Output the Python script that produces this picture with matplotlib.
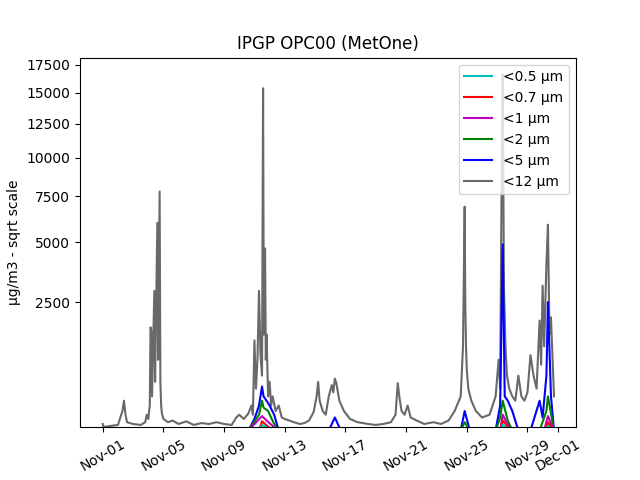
import numpy as np
import pandas as pd
import matplotlib
matplotlib.use("Agg")
import matplotlib.pyplot as plt
import matplotlib.dates as mdates

start = pd.Timestamp("2023-11-01")
# (day offset from Nov-01, value) for <12 um
pts12 = [(0.0,60),(0.05,45),(0.5,50),(1.0,55),(1.3,150),(1.4,250),(1.5,120),(1.6,70),(2.0,60),(2.5,55),
 (2.8,70),(2.9,120),(3.0,90),(3.1,200),(3.15,1700),(3.2,1600),(3.25,300),(3.4,2900),(3.45,500),(3.6,6000),
 (3.65,900),(3.75,7800),(3.8,500),(3.85,200),(3.9,130),(4.0,90),(4.3,70),(4.6,80),(5.0,60),(5.5,75),
 (6.0,55),(6.5,65),(7.0,60),(7.5,70),(8.0,60),(8.5,55),(8.8,100),(9.0,120),(9.3,90),(9.6,130),
 (9.8,200),(9.9,120),(10.0,1350),(10.1,400),(10.2,900),(10.3,2900),(10.4,1000),(10.5,600),(10.57,15400),(10.62,1500),
 (10.7,4700),(10.75,900),(10.8,1500),(10.9,300),(11.0,500),(11.1,200),(11.2,300),(11.4,150),(11.6,200),(11.8,100),
 (12.0,90),(12.3,80),(12.6,70),(13.0,60),(13.3,65),(13.6,80),(13.9,140),(14.1,300),(14.2,500),(14.3,250),
 (14.5,150),(14.7,120),(14.9,300),(15.1,450),(15.2,350),(15.3,550),(15.4,480),(15.6,250),(15.9,150),(16.3,90),
 (16.8,70),(17.5,60),(18.0,55),(18.5,60),(19.0,70),(19.3,120),(19.45,480),(19.55,300),(19.7,150),(19.9,120),
 (20.1,200),(20.3,100),(20.7,80),(21.2,60),(21.8,70),(22.3,60),(22.8,80),(23.2,150),(23.6,300),(23.75,1200),
 (23.86,6900),(23.9,2500),(23.95,1200),(24.0,700),(24.1,400),(24.3,250),(24.6,150),(25.0,100),(25.5,120),(25.9,300),
 (26.1,900),(26.2,400),(26.3,9200),(26.37,16600),(26.45,3000),(26.55,1200),(26.65,600),(26.8,400),(27.0,300),(27.2,250),
 (27.4,600),(27.6,300),(27.8,250),(28.0,350),(28.2,1000),(28.4,600),(28.6,400),(28.8,1900),(28.9,800),(29.0,3100),
 (29.1,1200),(29.25,4000),(29.35,5900),(29.45,1500),(29.55,2000),(29.75,300)]
pts5 = [(9.6,30),(10.0,90),(10.3,200),(10.5,430),(10.6,300),(10.8,250),(11.0,200),(11.3,120),(11.6,30),(14.9,30),
 (15.3,100),(15.7,30),(23.6,30),(23.86,150),(24.2,30),(25.9,30),(26.2,200),(26.37,4900),(26.5,300),(26.7,250),
 (27.0,150),(27.4,30),(28.2,30),(28.8,250),(29.0,100),(29.25,600),(29.35,2500),(29.55,300),(29.75,30)]
pts2 = [(9.6,30),(10.3,120),(10.5,250),(10.6,180),(10.9,150),(11.3,60),(11.6,30),(23.6,30),(23.86,70),(24.2,30),(25.9,30),
 (26.2,100),(26.37,250),(26.7,80),(27.0,30),(28.8,30),(29.25,150),(29.35,300),(29.75,30)]
pts1 = [(9.6,30),(10.5,110),(10.8,80),(11.2,50),(11.6,30),(26.2,30),(26.37,120),(26.9,30),(29.1,30),(29.35,110),(29.75,30)]
pts07 = [(10.3,30),(10.5,75),(11.2,30),(26.2,30),(26.37,80),(26.9,30),(29.2,30),(29.35,70),(29.75,30)]
pts05 = [(10.3,30),(10.5,55),(11.2,30),(26.2,30),(26.37,55),(26.9,30),(29.2,30),(29.35,50),(29.75,30)]

series = [("<0.5 µm","c",pts05),("<0.7 µm","r",pts07),("<1 µm","m",pts1),
          ("<2 µm","g",pts2),("<5 µm","b",pts5),("<12 µm","dimgray",pts12)]

fig, ax = plt.subplots(figsize=(6.4,4.8), dpi=100)
for lab, c, pts in series[::-1]:
    d = np.array([p[0] for p in pts]); v = np.array([p[1] for p in pts])
    t = start + pd.to_timedelta(d, unit="D")
    ax.plot(t, v, color=c, label=lab)
h, l = ax.get_legend_handles_labels()
ax.legend(h[::-1], l[::-1], loc="upper right")
ax.set_yscale("function", functions=(lambda x: np.sqrt(np.clip(x,0,None)), lambda x: x**2))
ax.set_ylim(44, 18150)
ax.set_yticks([2500,5000,7500,10000,12500,15000,17500])
ax.set_xlim(start - pd.Timedelta(days=1.5), start + pd.Timedelta(days=31.2))
ticks = [start + pd.Timedelta(days=k) for k in range(0,29,4)] + [pd.Timestamp("2023-12-01")]
ax.set_xticks(ticks)
ax.xaxis.set_major_formatter(mdates.DateFormatter("%b-%d"))
plt.setp(ax.get_xticklabels(), rotation=30)
ax.set_ylabel("µg/m3 - sqrt scale")
ax.set_title("IPGP OPC00 (MetOne)")
fig.savefig("out.png")
